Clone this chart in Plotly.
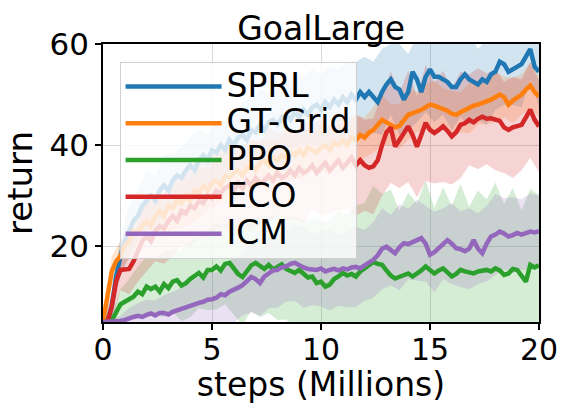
import plotly.graph_objects as go

# ---------------- data ----------------
steps = [round(i * 0.2, 1) for i in range(101)]

sprl = [5, 5, 8, 14, 18, 21, 23, 25, 26, 28,
        29, 30, 29, 31, 32, 31, 33, 34, 33.5, 35,
        36, 35, 37, 38, 37, 39, 38.5, 40, 39, 41,
        40, 41.5, 42, 41, 43, 42.5, 44, 43, 44.5, 45,
        44, 45.5, 46, 45, 46.5, 45.5, 47, 46, 47.5, 48,
        47, 48.5, 47.5, 49, 48, 49.5, 48.5, 50, 49, 50.5,
        49.5, 50.5, 49.5, 48.5, 50.5, 52, 53, 51.5, 51, 49,
        50.5, 54.5, 53, 50.5, 53.5, 55, 53.5, 53.5, 53, 52.5,
        51.5, 51.5, 53, 54, 53, 52.5, 52, 53, 52.5, 54,
        54.5, 56.5, 56, 54.5, 55, 55.5, 56, 57.5, 59, 55.5, 54.5]

gt_grid = [5, 10, 15, 17, 18, 20, 21, 23, 22.5, 24,
           25, 24, 26, 27, 26, 28, 27.5, 29, 28.5, 30,
           29, 31, 30.5, 32, 31, 32.5, 33, 32, 34, 33.5,
           34.5, 35, 34, 35.5, 36, 35, 36.5, 37, 36, 37.5,
           37, 38, 37.5, 38.5, 38, 39, 38, 39.5, 39, 38.5,
           39.5, 40, 39, 40.5, 40, 41, 40, 41.5, 41, 42,
           41.5, 42.5, 43, 44, 45, 44.5, 44, 43.5, 43.8, 45,
           46, 46.3, 46.6, 47, 47.5, 48, 47.8, 47.5, 47.3, 46.8,
           46.2, 46, 46.5, 47, 47.3, 47.8, 48, 48.3, 48.6, 49,
           49.5, 50, 49.5, 48, 48.8, 49.3, 50, 51, 51.8, 50.5, 49.6]

ppo = [5, 5, 5.3, 7, 8.5, 9, 9.5, 10, 11, 10.5,
       12, 11.5, 12, 11, 12.5, 11.7, 13, 13.3, 12.2, 12.7,
       13.5, 14, 14.7, 13.8, 15.3, 15.3, 16, 15.2, 16.5, 16.7,
       15.5, 14.5, 13.9, 15, 16.2, 16.7, 16, 15.5, 16.3, 15.4,
       15.9, 16.4, 15.5, 15, 14.7, 15.3, 14.5, 13.8, 14, 12.7,
       13, 12, 12.4, 13.5, 14, 14.7, 14.2, 14.5, 14, 15,
       15.6, 16.4, 16.9, 16.5, 16.3, 15.2, 14.2, 13.6, 14, 14.3,
       14.6, 14, 14.5, 15.2, 16, 15.3, 14.6, 15.2, 15.6, 14.8,
       14, 14.5, 15.3, 15, 14.8, 14.6, 15, 15.2, 15.3, 15,
       15.6, 15.2, 14.3, 14.6, 15.5, 15.3, 14, 13, 16.3, 15.8, 16.2]

eco = [5, 5, 8, 13, 15.3, 15.5, 15.5, 17, 19, 21,
       22, 21, 23, 24, 23.5, 25, 26, 25, 27, 26.5,
       28, 27.5, 29, 28.5, 30, 29.5, 31, 30.5, 31.5, 32,
       31, 32.5, 31.5, 33, 32, 33.5, 32.5, 33, 34, 33,
       34.5, 33.5, 34, 35, 34, 35.5, 34.5, 35, 36, 34.5,
       35.5, 36.5, 35, 36, 37, 35.5, 36.5, 37.5, 36, 37,
       36, 35.5, 35.8, 37, 40, 42.5, 43.5, 39.7, 41, 42.5,
       43.7, 42, 39.7, 42, 44.4, 43, 42.4, 43, 43.7, 42.8,
       41.7, 42.5, 44, 44.3, 45, 44.5, 45.2, 45.6, 45.2, 45.3,
       45, 44.8, 43.5, 43, 43.5, 43.7, 44, 45.5, 47, 45, 43.7]

icm = [5, 5, 5, 5, 5.2, 5.4, 5.8, 6, 6.2, 6,
       6.4, 6.7, 6.3, 6.8, 6.8, 6.5, 7, 7.3, 7.8, 8,
       8.3, 8.5, 8.8, 9, 9.4, 9.5, 9.8, 10.5, 10.3, 11,
       11.3, 11.8, 12.3, 13, 13.9, 13.5, 12.7, 14, 14.7, 15.2,
       15.3, 15.8, 16, 16.5, 16.7, 16.2, 15.8, 15.5, 15.3, 15.3,
       15.6, 15, 15.3, 15.5, 15.2, 15.6, 15.4, 15.8, 15.9, 15.6,
       16.2, 16.8, 17.3, 18.2, 19.5, 19.9, 19.2, 18.6, 19.8, 20.6,
       20.4, 20.9, 21.2, 21.6, 20.5, 18.3, 18.8, 19.6, 20.5, 21.2,
       20.5, 19.6, 19.4, 19, 19.5, 21.2, 19.5, 18.6, 20.5, 21.9,
       22.3, 22.9, 22.5, 21.9, 22.2, 22.6, 22.3, 22.6, 22.9, 22.7, 23]

# half-widths of the shaded bands, read every 0.4 M steps
sprl_spread = [0, 2, 4, 5, 5, 6, 5, 6, 5, 6, 5.5, 6, 5, 6, 5.5, 6, 6.5, 6, 7, 6,
               7, 6.5, 7, 6.5, 7.5, 7, 8, 7, 8, 7.5, 8, 7, 8.5, 7, 9, 7.5, 8.5, 7, 9, 7,
               8.5, 7.5, 9, 7, 8.5, 7.5, 8, 7, 8.5, 6, 7]
gt_spread = [0, 3, 3, 3.5, 4, 3.5, 4, 4.5, 4, 5, 4.5, 5, 4, 5, 4.5, 5, 4, 5, 4.5, 5,
             4, 5, 4.5, 5, 4, 4.5, 5, 4, 4.5, 5, 4, 4.5, 5, 4, 4.5, 5, 4, 4.5, 5, 4,
             4.5, 4, 5, 4, 4.5, 5, 4, 4.5, 4, 4.5, 4]
ppo_spread = [0, 1, 3, 4, 5, 6, 5.5, 6.5, 6, 7, 7.5, 7, 8, 8.5, 8, 9, 9.5, 9, 10, 9.5,
              10.5, 10, 11, 10.5, 11.5, 12, 12.5, 13, 12, 14, 13, 15, 14, 17, 13, 16, 14, 17, 13, 16,
              14, 17, 13, 16, 14, 17, 14, 16, 13, 15, 14]
eco_spread = [0, 3, 4, 5, 6, 7, 6, 7, 8, 7, 8, 7, 8.5, 7.5, 8, 9, 8, 9, 8, 9.5,
              8, 9, 8.5, 10, 8.5, 9.5, 8.5, 10, 9, 10, 9, 9.5, 10, 11, 9.5, 11, 10, 11.5, 10, 11,
              9.5, 10.5, 9, 10, 9, 10, 9, 10, 9, 9.5, 9]
icm_spread = [0, 0.5, 1, 2, 2.5, 3, 3, 3.5, 4, 4, 4.5, 5, 5.5, 5, 6, 6.5, 6, 7, 6.5, 7,
              7.5, 7, 7.5, 8, 7, 7.5, 8, 7, 7.5, 8, 7, 7.5, 8, 7, 8.5, 7, 8, 7.5, 8, 7,
              8, 7.5, 8, 7, 7.5, 8, 7, 7.5, 7, 7.5, 7]

names = ["SPRL", "GT-Grid", "PPO", "ECO", "ICM"]
means = [sprl, gt_grid, ppo, eco, icm]
spreads = [sprl_spread, gt_spread, ppo_spread, eco_spread, icm_spread]
colors = ["#1f77b4", "#ff7f0e", "#2ca02c", "#d62728", "#9467bd"]
fills = ["rgba(31,119,180,0.2)", "rgba(255,127,14,0.2)", "rgba(44,160,44,0.2)",
         "rgba(214,39,40,0.2)", "rgba(148,103,189,0.2)"]

fig = go.Figure()

# shaded bands
for m, s, fc in zip(means, spreads, fills):
    bx = steps[::2]
    bm = m[::2]
    upper = [a + b for a, b in zip(bm, s)]
    lower = [a - b for a, b in zip(bm, s)]
    fig.add_trace(go.Scatter(
        x=bx + bx[::-1], y=upper + lower[::-1], fill="toself", fillcolor=fc,
        line=dict(width=0), mode="lines", hoverinfo="skip", showlegend=False))

# mean lines
for n, m, c in zip(names, means, colors):
    fig.add_trace(go.Scatter(
        x=steps, y=m, mode="lines", name='<span style="font-size:33px">%s</span>' % n,
        line=dict(color=c, width=4.5)))

FONT = "DejaVu Sans"
fig.update_layout(
    width=562, height=404,
    margin=dict(l=103, r=23, t=44, b=82),
    paper_bgcolor="white", plot_bgcolor="white",
    font=dict(family=FONT, size=31, color="black"),
    title=dict(text="GoalLarge", x=0.5715, xanchor="center", y=0.93, yanchor="middle",
               yref="container", font=dict(size=33, family=FONT)),
    showlegend=True,
    legend=dict(x=0.038, y=0.935, xanchor="left", yanchor="top",
                bgcolor="rgba(255,255,255,0.8)", bordercolor="#d0d0d0", borderwidth=1,
                font=dict(size=26, family=FONT), itemwidth=96, tracegroupgap=0),
)
fig.update_xaxes(range=[0, 20], tickvals=[0, 5, 10, 15, 20], ticks="outside", ticklen=6,
                 tickwidth=1.5, tickcolor="black", showline=True, linecolor="black",
                 linewidth=1.5, mirror=True, showgrid=True, gridcolor="#d9d9d9",
                 gridwidth=1, zeroline=False, automargin=False, ticklabelstandoff=-6,
                 tickfont=dict(size=30),
                 title=dict(text="steps (Millions)", standoff=0, font=dict(size=33)))
fig.update_yaxes(range=[5, 60], tickvals=[20, 40, 60], ticks="outside", ticklen=6,
                 tickwidth=1.5, tickcolor="black", showline=True, linecolor="black",
                 linewidth=1.5, mirror=True, showgrid=True, gridcolor="#d9d9d9",
                 gridwidth=1, zeroline=False, automargin=False, tickfont=dict(size=31),
                 title=dict(text="return", standoff=8, font=dict(size=34)))

fig.write_html("out.html")
